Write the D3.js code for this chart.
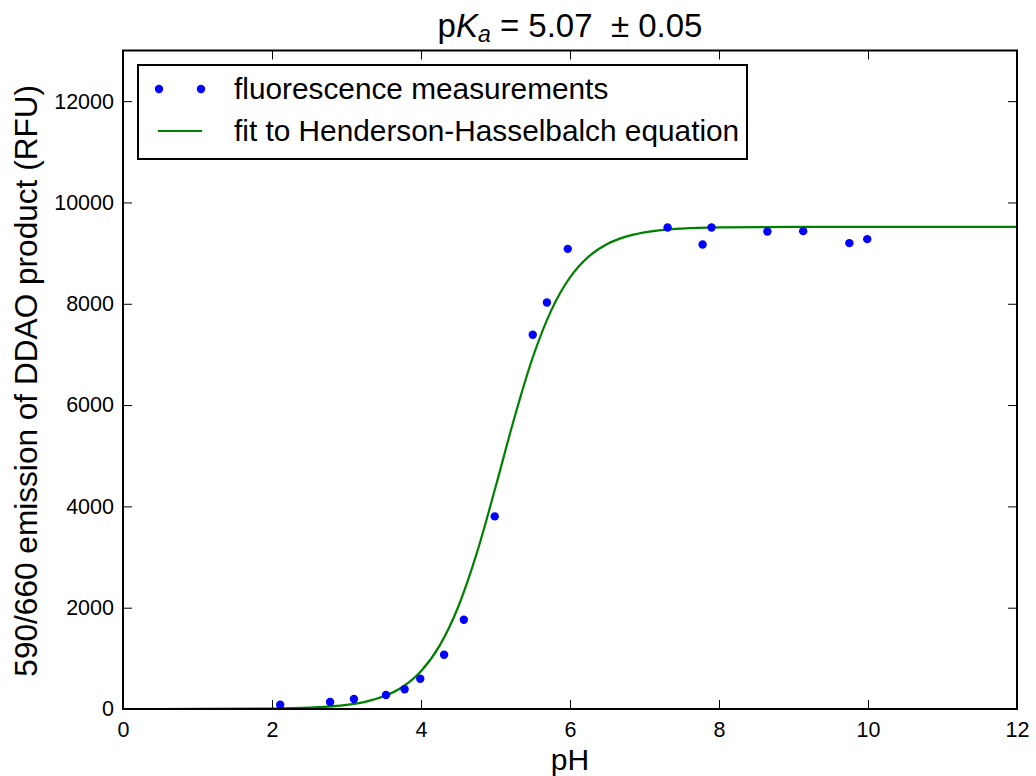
<!DOCTYPE html>
<html>
<head>
<meta charset="utf-8">
<script src="https://cdn.jsdelivr.net/npm/d3@7"></script>
<style>
  html, body { margin: 0; padding: 0; background: #fff; }
  svg { display: block; font-family: "Liberation Sans", Arial, Helvetica, sans-serif; }
</style>
</head>
<body>
<svg id="chart" width="1036" height="776"></svg>
<script>
// ---- data ----
const measPH  = [2.11, 2.78, 3.10, 3.53, 3.78, 3.99, 4.31, 4.575, 4.99, 5.50, 5.69, 5.97, 7.31, 7.78, 7.90, 8.65, 9.13, 9.75, 9.99];
const measRFU = [85, 140, 197, 276, 389, 598, 1072, 1763, 3803, 7387, 8026, 9084, 9507, 9171, 9507, 9428, 9434, 9197, 9276];

const fitPH  = [0, 1, 2, 2.5, 3, 3.25, 3.5, 3.75, 4, 4.25, 4.5, 4.75, 5, 5.25, 5.5, 5.75, 6, 6.25, 6.5, 6.75, 7, 7.5, 8, 9, 10, 12];
const fitRFU = [0, 1, 8, 26, 80, 142, 250, 435, 747, 1251, 2019, 3082, 4377, 5731, 6941, 7875, 8519, 8930, 9179, 9325, 9409, 9485, 9509, 9519, 9520, 9520];

const xTicks = [0, 2, 4, 6, 8, 10, 12];
const yTicks = [0, 2000, 4000, 6000, 8000, 10000, 12000];

const legendLabels = ["fluorescence measurements", "fit to Henderson-Hasselbalch equation"];
const xLabel = "pH";
const yLabel = "590/660 emission of DDAO product (RFU)";

// ---- layout ----
const L = 123, R = 1017, T = 50.5, B = 709;
const svg = d3.select("#chart");
const x = d3.scaleLinear().domain([0, 12]).range([L, R]);
const y = d3.scaleLinear().domain([0, 13000]).range([B, T]);

const tickLen = 9;

// fit line
const line = d3.line().x((d, i) => x(fitPH[i])).y((d, i) => y(fitRFU[i])).curve(d3.curveMonotoneX);
svg.append("path")
  .attr("d", line(fitPH))
  .attr("fill", "none")
  .attr("stroke", "#008000")
  .attr("stroke-width", 2.2);

// points
svg.append("g").selectAll("circle")
  .data(measPH)
  .join("circle")
  .attr("cx", (d) => x(d))
  .attr("cy", (d, i) => y(measRFU[i]))
  .attr("r", 4.2)
  .attr("fill", "#0000ff");

// axes (ticks inward on all four sides)
const axB = svg.append("g").attr("transform", `translate(0,${B})`)
  .call(d3.axisBottom(x).tickValues(xTicks).tickSizeInner(-tickLen).tickSizeOuter(0).tickPadding(13).tickFormat(d3.format("d")));
const axT = svg.append("g").attr("transform", `translate(0,${T})`)
  .call(d3.axisTop(x).tickValues(xTicks).tickSizeInner(-tickLen).tickSizeOuter(0).tickFormat(""));
const axL = svg.append("g").attr("transform", `translate(${L},0)`)
  .call(d3.axisLeft(y).tickValues(yTicks).tickSizeInner(-tickLen).tickSizeOuter(0).tickPadding(9).tickFormat(d3.format("d")));
const axR = svg.append("g").attr("transform", `translate(${R},0)`)
  .call(d3.axisRight(y).tickValues(yTicks).tickSizeInner(-tickLen).tickSizeOuter(0).tickFormat(""));

[axB, axT, axL, axR].forEach(g => {
  g.select(".domain").remove();
  g.selectAll(".tick line").attr("stroke", "#000").attr("stroke-width", 1);
  g.selectAll(".tick text").attr("fill", "#000").attr("font-size", 21.5)
    .attr("font-family", "'Liberation Sans', Arial, sans-serif");
});
axB.selectAll(".tick text").attr("dy", "0.71em");

// frame
svg.append("rect")
  .attr("x", L).attr("y", T).attr("width", R - L).attr("height", B - T)
  .attr("fill", "none").attr("stroke", "#000").attr("stroke-width", 2);

// axis labels
svg.append("text")
  .attr("x", (L + R) / 2).attr("y", 770)
  .attr("text-anchor", "middle").attr("font-size", 30).attr("fill", "#000")
  .text(xLabel);
svg.append("text")
  .attr("transform", `translate(37,${(T + B) / 2 + 1}) rotate(-90)`)
  .attr("text-anchor", "middle").attr("font-size", 31.6).attr("fill", "#000")
  .text(yLabel);

// title
const title = svg.append("text")
  .attr("x", (L + R) / 2).attr("y", 37)
  .attr("text-anchor", "middle").attr("font-size", 33).attr("fill", "#000");
title.append("tspan").text("p");
title.append("tspan").attr("font-style", "italic").text("K");
title.append("tspan").attr("font-style", "italic").attr("font-size", 23).attr("dy", 5).text("a");
title.append("tspan").attr("dy", -5).text("\u00a0=\u00a05.07\u00a0\u00a0\u00b1\u00a00.05");

// legend
const lg = svg.append("g");
lg.append("rect")
  .attr("x", 138).attr("y", 65).attr("width", 609).attr("height", 94)
  .attr("fill", "#fff").attr("stroke", "#000").attr("stroke-width", 2);
[159, 201].forEach(cx => {
  lg.append("circle").attr("cx", cx).attr("cy", 89).attr("r", 4.2).attr("fill", "#0000ff");
});
lg.append("line").attr("x1", 158).attr("x2", 202).attr("y1", 131).attr("y2", 131)
  .attr("stroke", "#008000").attr("stroke-width", 2.2);
lg.selectAll("text.lt")
  .data(legendLabels)
  .join("text")
  .attr("class", "lt")
  .attr("x", 234)
  .attr("y", (d, i) => 99 + i * 42)
  .attr("font-size", 29.8)
  .attr("fill", "#000")
  .text(d => d);
</script>
</body>
</html>
